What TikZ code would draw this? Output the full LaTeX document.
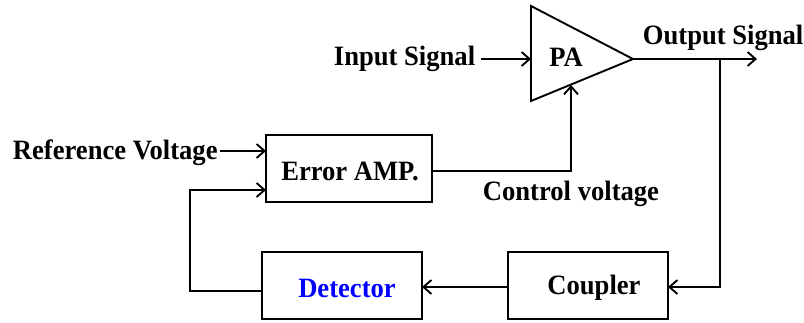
\documentclass[tikz,border=0pt]{standalone}
\usepackage{fontspec}
\setmainfont{Liberation Serif}[FakeStretch=0.95]
\usetikzlibrary{arrows.meta}
\begin{document}
\begin{tikzpicture}[x=1pt,y=-1pt,
  line width=1.9pt,
  arr/.style={-{Straight Barb[length=8pt,width=14pt,line width=1.9pt]}},
  lbl/.style={inner sep=0pt,font=\fontsize{28}{30}\selectfont\bfseries}]
\useasboundingbox (0,0) rectangle (804,322);
% PA triangle
\coordinate (pt) at (531,6);
\coordinate (pb) at (531,101);
\coordinate (tip) at (633,59);
\draw[line join=miter] (pt) -- (tip) -- (pb) -- cycle;
\node[lbl] (pa) at (566,57) {PA};
\coordinate (pain) at (531,59);
\coordinate (pactl) at (571,85);
% boxes
\draw (266,135) rectangle (432,202);
\node[lbl] (err) at (350,171) {Error AMP.};
\coordinate (errL1) at (266,151);
\coordinate (errL2) at (266,190);
\coordinate (errR) at (432,171);
\draw (262,252) rectangle (422,319);
\node[lbl,text=blue] (det) at (347,288) {Detector};
\coordinate (detL) at (262,291);
\coordinate (detR) at (422,287);
\draw (508,252) rectangle (668,319);
\node[lbl] (cou) at (594,288) {Coupler};
\coordinate (couL) at (508,287);
\coordinate (couR) at (668,287);
% labels
\node[lbl,anchor=base west] (inp) at (333,65) {Input Signal};
\node[lbl,anchor=base west] (outp) at (642,44) {Output Signal};
\node[lbl,anchor=base west] (ref) at (12,159) {Reference Voltage};
\node[lbl,anchor=base west] (ctl) at (482,200) {Control voltage};
% connectors
\coordinate (inS) at (481,59);
\draw[arr] (inS) -- (pain);
\coordinate (outE) at (757,59);
\coordinate (split) at (720,59);
\draw[arr] (tip) -- (outE);
\draw[arr] (split) -- (720,287) -- (couR);
\draw[arr] (couL) -- (detR);
\draw[arr] (detL) -- (190,291) -- (190,190) -- (errL2);
\coordinate (refS) at (220,151);
\draw[arr] (refS) -- (errL1);
\draw[arr] (errR) -- (571,171) -- (pactl);
\end{tikzpicture}
\end{document}
